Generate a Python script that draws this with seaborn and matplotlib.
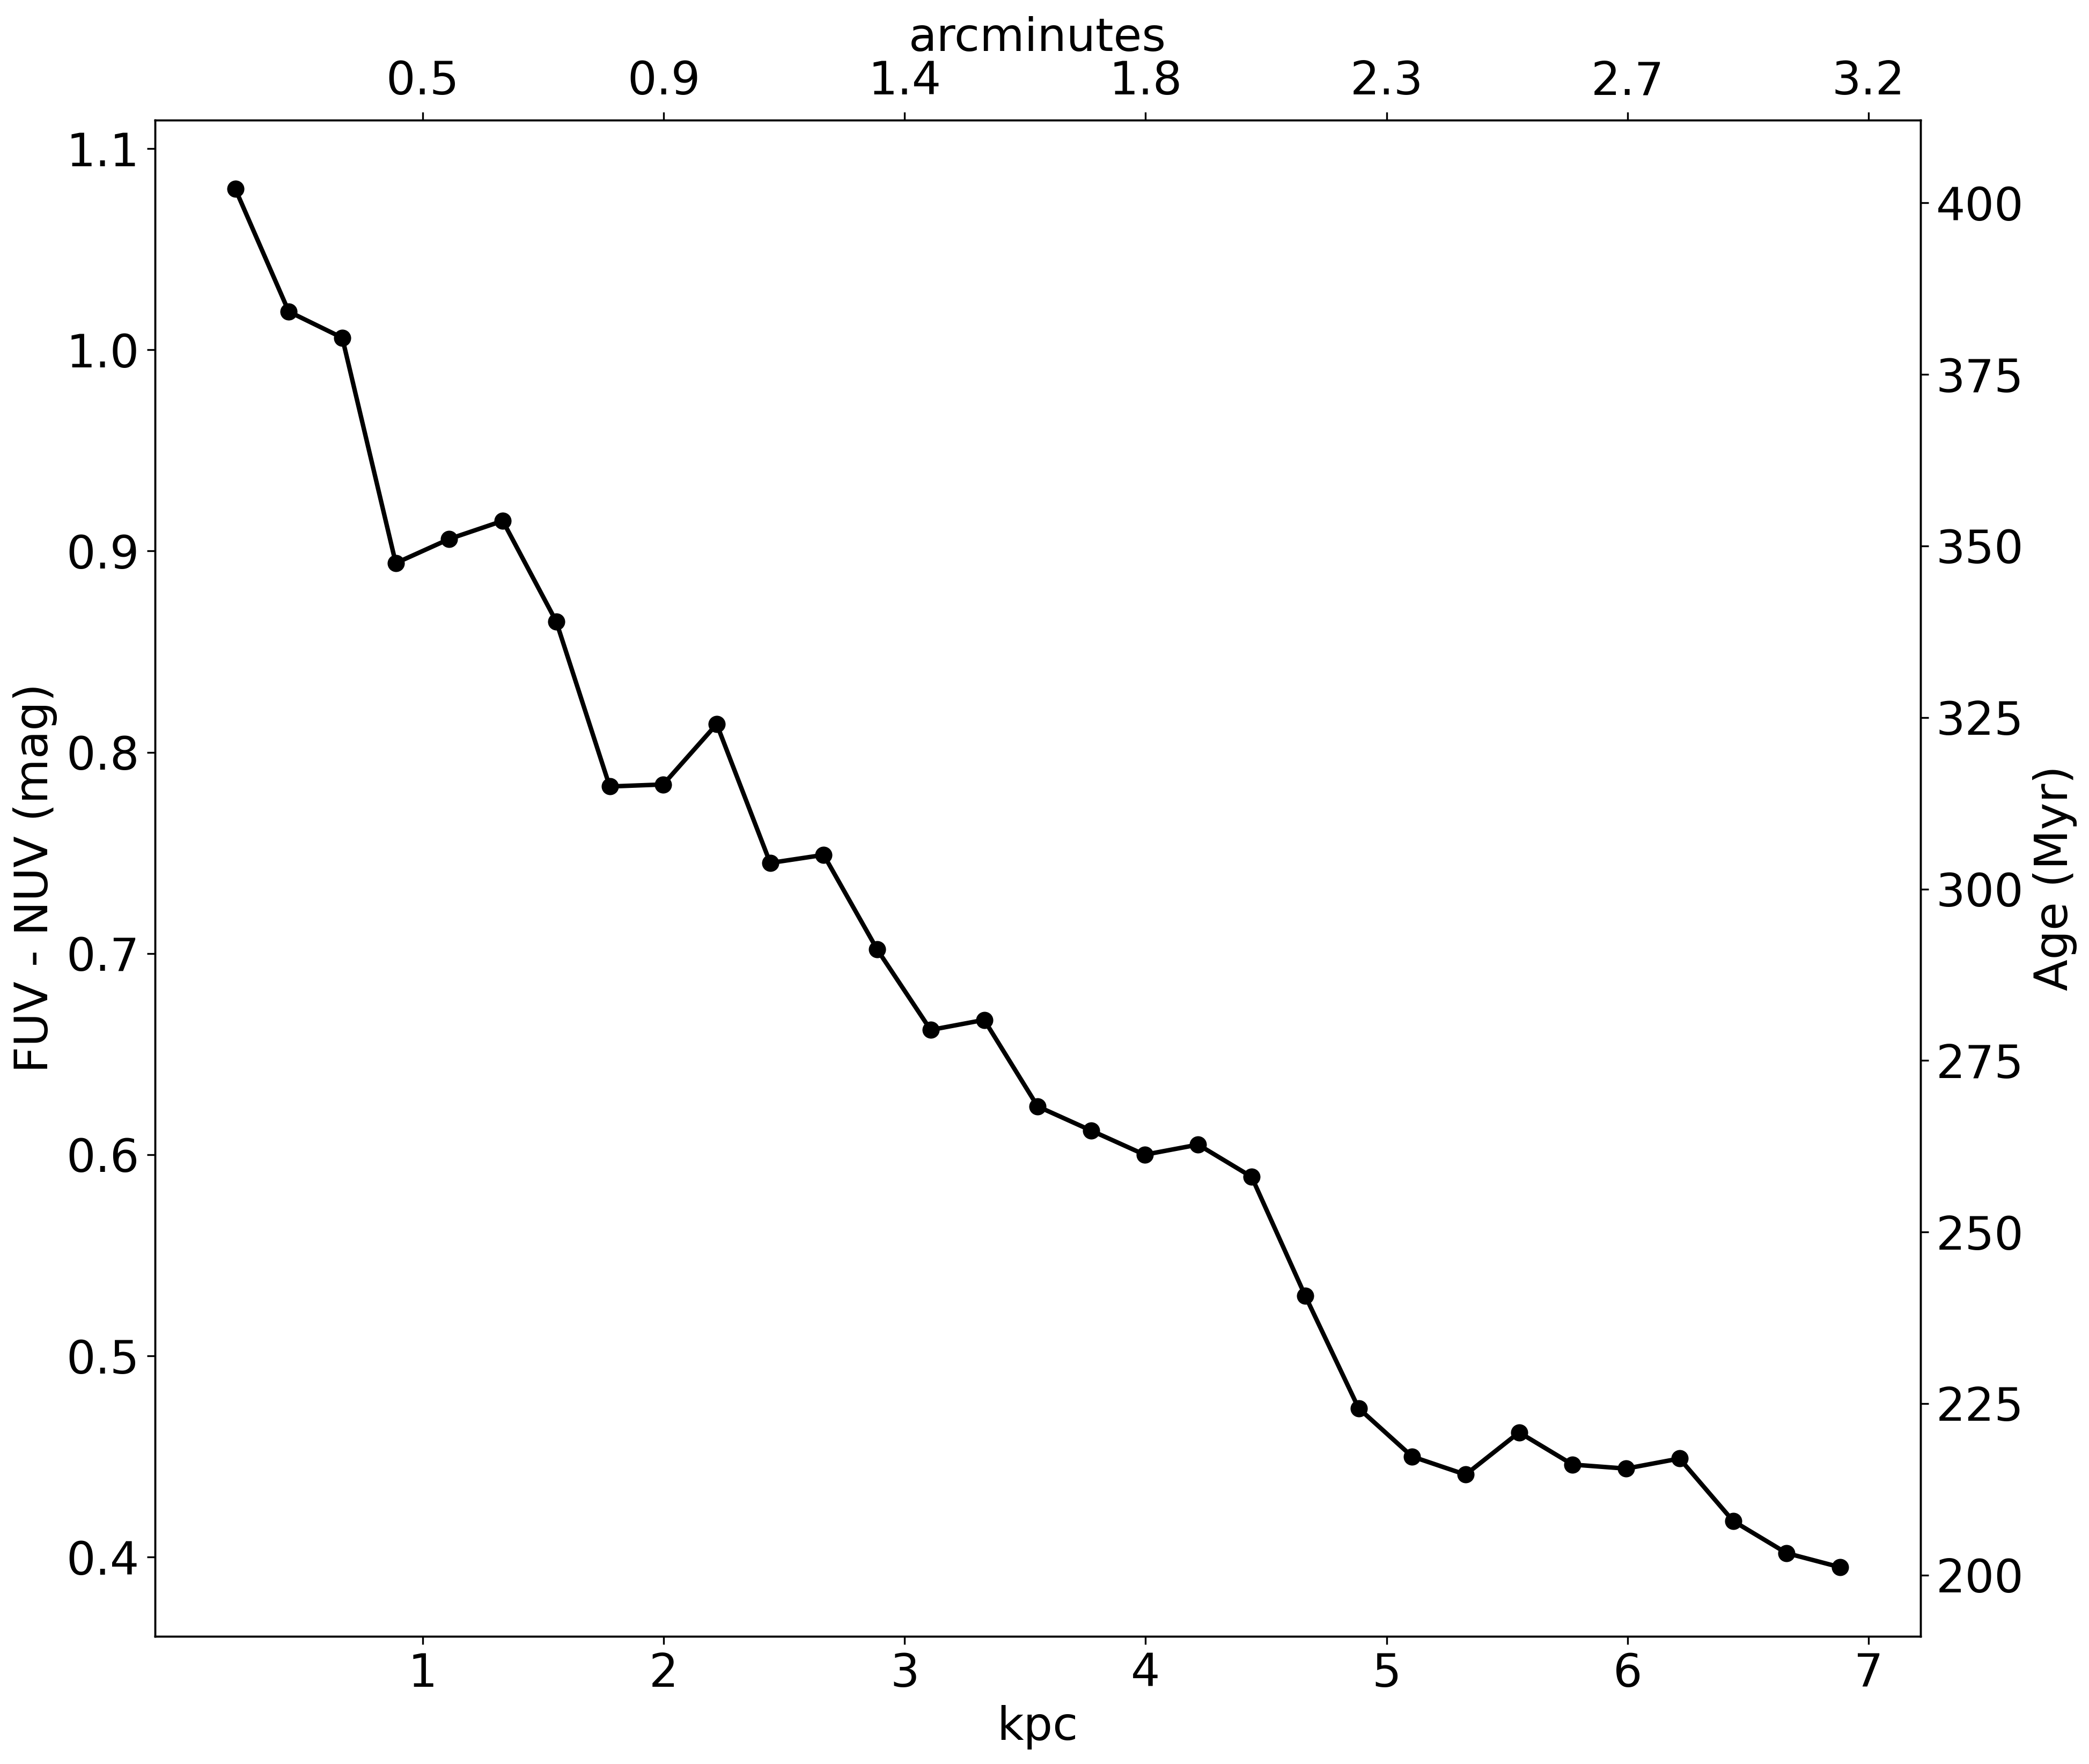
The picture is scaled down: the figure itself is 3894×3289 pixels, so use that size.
import matplotlib
matplotlib.use("Agg")
import matplotlib.pyplot as plt
import seaborn as sns
import pandas as pd

# Data
kpc = [0.222, 0.444, 0.666, 0.888, 1.110, 1.332, 1.554, 1.776, 1.998, 2.220,
       2.442, 2.664, 2.886, 3.108, 3.330, 3.552, 3.774, 3.996, 4.218, 4.440,
       4.662, 4.884, 5.106, 5.328, 5.550, 5.772, 5.994, 6.216, 6.438, 6.660,
       6.882]
fuv_nuv = [1.080, 1.019, 1.006, 0.894, 0.906, 0.915, 0.865, 0.783, 0.784, 0.814,
           0.745, 0.749, 0.702, 0.662, 0.667, 0.624, 0.612, 0.600, 0.605, 0.589,
           0.530, 0.474, 0.450, 0.441, 0.462, 0.446, 0.444, 0.449, 0.418, 0.402,
           0.395]
kpc_ticks = [1, 2, 3, 4, 5, 6, 7]
arcmin_labels = ["0.5", "0.9", "1.4", "1.8", "2.3", "2.7", "3.2"]
age_ticks = [200, 225, 250, 275, 300, 325, 350, 375, 400]
age_limits = (191.1, 412.1)

FS = 20.6
plt.rcParams.update({
    "font.family": ["DejaVu Sans"],
    "font.size": FS,
    "axes.labelsize": FS,
    "xtick.labelsize": FS,
    "ytick.labelsize": FS,
})

df = pd.DataFrame({"kpc": kpc, "color": fuv_nuv})

fig = plt.figure(figsize=(3895 / 300, 3289 / 300), dpi=300)
ax = fig.add_subplot(111)
fig.subplots_adjust(left=0.0742, right=0.919, bottom=0.0725, top=0.932)

sns.lineplot(data=df, x="kpc", y="color", ax=ax, color="black",
             linewidth=2.0, marker="o", markersize=7.2,
             markeredgecolor="black", markeredgewidth=0.5, errorbar=None)
ax.set_xticks(kpc_ticks)
ax.set_xlabel("kpc")
ax.set_ylabel("FUV - NUV (mag)")

ax_r = ax.twinx()
ax_r.set_ylim(*age_limits)
ax_r.set_yticks(age_ticks)
ax_r.set_ylabel("Age (Myr)")

ax_t = ax.twiny()
ax_t.set_xlim(ax.get_xlim())
ax_t.set_xticks(kpc_ticks)
ax_t.set_xticklabels(arcmin_labels)
ax_t.set_xlabel("arcminutes")

fig.savefig("out.png", dpi=300)
